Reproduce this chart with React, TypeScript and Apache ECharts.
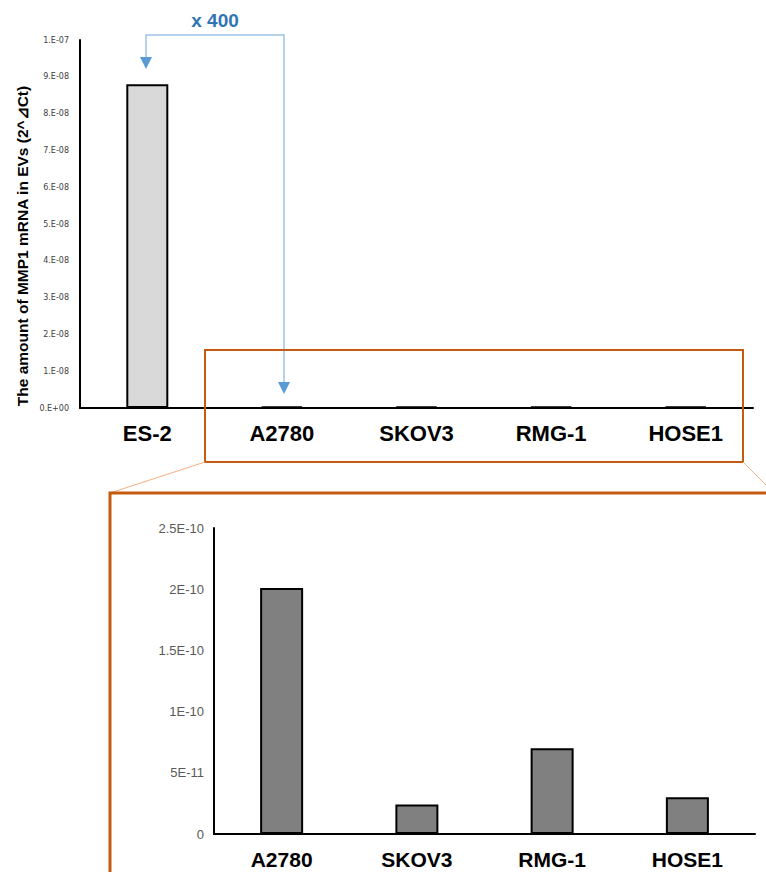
import React, { useEffect, useRef } from "react";
import * as echarts from "echarts";

// ---- data ----
const topCategories = ["ES-2", "A2780", "SKOV3", "RMG-1", "HOSE1"];
const es2Value = 8.8e-8;
const zoomCategories = ["A2780", "SKOV3", "RMG-1", "HOSE1"];
const zoomValues = [2.01e-10, 2.4e-11, 7.0e-11, 3.0e-11];
const topValues = [es2Value, ...zoomValues];
const topTickStep = 1e-8;
const topTickLabels = [
  "0.E+00", "1.E-08", "2.E-08", "3.E-08", "4.E-08", "5.E-08",
  "6.E-08", "7.E-08", "8.E-08", "9.E-08", "1.E-07",
];
const zoomTickStep = 5e-11;
const zoomTickLabels = ["0", "5E-11", "1E-10", "1.5E-10", "2E-10", "2.5E-10"];
const yAxisTitle = "The amount of MMP1 mRNA in EVs (2^\u22BFCt)";
const foldLabel = "x 400";

const ORANGE = "#c55a11";
const ORANGE_LIGHT = "#f4b183";
const BLUE_LINE = "#9dc3e6";
const BLUE_ARROW = "#5b9bd5";
const BLUE_TEXT = "#2e75b6";

export default function App() {
  const ref = useRef<HTMLDivElement>(null);

  useEffect(() => {
    if (!ref.current) return;
    const chart = echarts.init(ref.current, null, { renderer: "svg" });
    const option: any = {
      animation: false,
      backgroundColor: "#ffffff",
      grid: [
        { left: 80, top: 40, right: 13, bottom: 464, containLabel: false },
        { left: 214, top: 528, right: 11, bottom: 38, containLabel: false },
      ],
      xAxis: [
        {
          type: "category",
          gridIndex: 0,
          data: topCategories,
          axisLine: { lineStyle: { color: "#000", width: 2 } },
          axisTick: { show: false },
          axisLabel: {
            margin: 14,
            color: "#000",
            fontSize: 22,
            fontWeight: "bold",
            fontFamily: "Liberation Sans",
          },
        },
        {
          type: "category",
          gridIndex: 1,
          data: zoomCategories,
          axisLine: { lineStyle: { color: "#000", width: 2 } },
          axisTick: { show: false },
          axisLabel: {
            margin: 15,
            color: "#000",
            fontSize: 21,
            fontWeight: "bold",
            fontFamily: "Liberation Sans",
          },
        },
      ],
      yAxis: [
        {
          type: "value",
          gridIndex: 0,
          min: 0,
          max: 1e-7,
          interval: topTickStep,
          splitLine: { show: false },
          axisLine: { show: true, lineStyle: { color: "#000", width: 2 } },
          axisTick: { show: false },
          axisLabel: {
            margin: 11,
            color: "#404040",
            fontSize: 8,
            fontFamily: "DejaVu Sans",
            formatter: (v: number) => topTickLabels[Math.round(v / topTickStep)] ?? "",
          },
        },
        {
          type: "value",
          gridIndex: 1,
          min: 0,
          max: 2.5e-10,
          interval: zoomTickStep,
          splitLine: { show: false },
          axisLine: { show: true, lineStyle: { color: "#000", width: 2 } },
          axisTick: { show: false },
          axisLabel: {
            margin: 10,
            color: "#595959",
            fontSize: 13,
            fontFamily: "Liberation Sans",
            formatter: (v: number) => zoomTickLabels[Math.round(v / zoomTickStep)] ?? "",
          },
        },
      ],
      series: [
        {
          type: "bar",
          xAxisIndex: 0,
          yAxisIndex: 0,
          barWidth: 42,
          barMinHeight: 1.5,
          data: topValues.map((v, i) => ({
            value: v,
            itemStyle: { color: i === 0 ? "#d9d9d9" : "#808080" },
          })),
          itemStyle: { borderColor: "#000", borderWidth: 2 },
        },
        {
          type: "bar",
          xAxisIndex: 1,
          yAxisIndex: 1,
          barWidth: 43,
          data: zoomValues,
          itemStyle: { color: "#808080", borderColor: "#000", borderWidth: 2 },
        },
      ],
      graphic: [
        {
          type: "text",
          x: 22,
          y: 246,
          rotation: Math.PI / 2,
          z: 100,
          style: {
            text: yAxisTitle,
            fill: "#000",
            fontSize: 15.5,
            fontWeight: "bold",
            fontFamily: "Liberation Sans",
            align: "center",
            verticalAlign: "middle",
          },
        },
        {
          type: "text",
          x: 215,
          y: 20,
          z: 100,
          style: {
            text: foldLabel,
            fill: BLUE_TEXT,
            fontSize: 19,
            fontWeight: "bold",
            fontFamily: "Liberation Sans",
            align: "center",
            verticalAlign: "middle",
          },
        },
        {
          type: "polyline",
          z: 100,
          shape: { points: [[146, 57], [146, 35], [284, 35], [284, 382]] },
          style: { stroke: BLUE_LINE, lineWidth: 1.5, fill: null },
        },
        {
          type: "polygon",
          z: 100,
          shape: { points: [[140, 57], [152, 57], [146, 69]] },
          style: { fill: BLUE_ARROW },
        },
        {
          type: "polygon",
          z: 100,
          shape: { points: [[278, 382], [290, 382], [284, 394]] },
          style: { fill: BLUE_ARROW },
        },
        {
          type: "rect",
          z: 100,
          shape: { x: 205, y: 350, width: 538, height: 112 },
          style: { stroke: ORANGE, lineWidth: 2, fill: null },
        },
        {
          type: "line",
          z: 100,
          shape: { x1: 205, y1: 462, x2: 110, y2: 493 },
          style: { stroke: ORANGE_LIGHT, lineWidth: 1 },
        },
        {
          type: "line",
          z: 100,
          shape: { x1: 743, y1: 462, x2: 774, y2: 493 },
          style: { stroke: ORANGE_LIGHT, lineWidth: 1 },
        },
        {
          type: "rect",
          z: 100,
          shape: { x: 110, y: 493, width: 720, height: 420 },
          style: { stroke: ORANGE, lineWidth: 3, fill: null },
        },
      ],
    };
    chart.setOption(option);
    return () => chart.dispose();
  }, []);

  return (
    <div
      ref={ref}
      style={{ position: "absolute", left: 0, top: 0, width: 766, height: 872 }}
    />
  );
}
